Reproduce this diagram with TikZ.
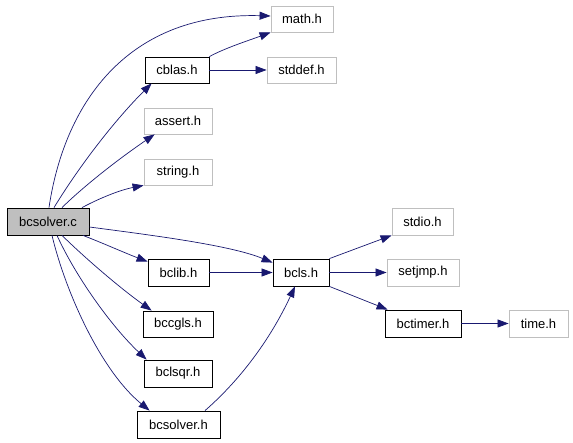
\documentclass[tikz,border=0pt]{standalone}
\usepackage{fontspec}
\setmainfont{Liberation Sans}
\usetikzlibrary{arrows.meta}
\definecolor{edgec}{HTML}{191970}
\definecolor{gborder}{HTML}{BFBFBF}
\definecolor{cfill}{HTML}{BFBFBF}
\tikzset{
  box/.style={draw=black, line width=0.8pt, rectangle, inner sep=0pt, font=\fontsize{13}{15}\selectfont, fill=white},
  gbox/.style={box, draw=gborder},
  rootbox/.style={box, fill=cfill},
  dep/.style={draw=edgec, line width=0.7pt, -{Triangle[length=11pt,width=8pt]}, fill=none},
}
\begin{document}
\begin{tikzpicture}[x=1pt,y=-1pt]
\useasboundingbox (0,0) rectangle (573,443);
% nodes
\node[gbox, minimum width=62, minimum height=26] (math) at (302,19) {math.h};
\node[box, minimum width=64, minimum height=26] (cblas) at (177,70) {cblas.h};
\node[gbox, minimum width=69, minimum height=26] (stddef) at (301.5,70) {stddef.h};
\node[gbox, minimum width=68, minimum height=26] (assert) at (178,121) {assert.h};
\node[gbox, minimum width=68, minimum height=26] (string) at (178,172) {string.h};
\node[rootbox, minimum width=82, minimum height=27] (bcc) at (48,221.5) {bcsolver.c};
\node[box, minimum width=61, minimum height=27] (bclib) at (178.5,272.5) {bclib.h};
\node[box, minimum width=56, minimum height=27] (bcls) at (301,272.5) {bcls.h};
\node[box, minimum width=70, minimum height=26] (bccgls) at (178,324) {bccgls.h};
\node[box, minimum width=68, minimum height=27] (bclsqr) at (178,373.5) {bclsqr.h};
\node[box, minimum width=83, minimum height=27] (bcsh) at (178.5,424.5) {bcsolver.h};
\node[gbox, minimum width=61, minimum height=27] (stdio) at (422.5,221.5) {stdio.h};
\node[gbox, minimum width=72, minimum height=27] (setjmp) at (423,272.5) {setjmp.h};
\node[box, minimum width=76, minimum height=27] (bctimer) at (423,323.5) {bctimer.h};
\node[gbox, minimum width=59, minimum height=27] (time) at (538.5,323.5) {time.h};
% edges from bcsolver.c
\draw[dep] ([xshift=1pt]bcc.north) .. controls (65,100) and (130,12) .. ([yshift=3pt]math.west);
\draw[dep] ([xshift=6pt]bcc.north) .. controls (80,165) and (115,120) .. ([xshift=7pt]cblas.south west);
\draw[dep] ([xshift=14pt]bcc.north) .. controls (85,185) and (120,158) .. ([xshift=11pt]assert.south west);
\draw[dep] ([xshift=34pt]bcc.north) .. controls (100,198) and (120,190) .. (string.south west);
\draw[dep] ([yshift=-5.5pt]bcc.east) .. controls (150,235) and (230,245) .. ([yshift=-4pt]bcls.north west);
\draw[dep] ([xshift=35pt]bcc.south) .. controls (105,244) and (125,253) .. ([yshift=-3pt]bclib.north west);
\draw[dep] ([xshift=14pt]bcc.south) .. controls (85,258) and (120,288) .. ([xshift=9pt]bccgls.north west);
\draw[dep] ([xshift=9pt]bcc.south) .. controls (75,275) and (110,325) .. ([xshift=3pt]bclsqr.north west);
\draw[dep] ([xshift=4pt]bcc.south) .. controls (65,290) and (100,370) .. ([xshift=13pt]bcsh.north west);
% other edges
\draw[dep] (cblas.north east) .. controls (225,48) and (250,40) .. (math.south west);
\draw[dep] (cblas.east) -- (stddef.west);
\draw[dep] (bclib.east) -- (bcls.west);
\draw[dep] ([xshift=26.5pt]bcsh.north) .. controls (240,380) and (270,340) .. ([xshift=-6pt]bcls.south);
\draw[dep] (bcls.north east) -- (stdio.south west);
\draw[dep] (bcls.east) -- (setjmp.west);
\draw[dep] (bcls.south east) -- ([xshift=3pt]bctimer.north west);
\draw[dep] (bctimer.east) -- (time.west);
\end{tikzpicture}
\end{document}
